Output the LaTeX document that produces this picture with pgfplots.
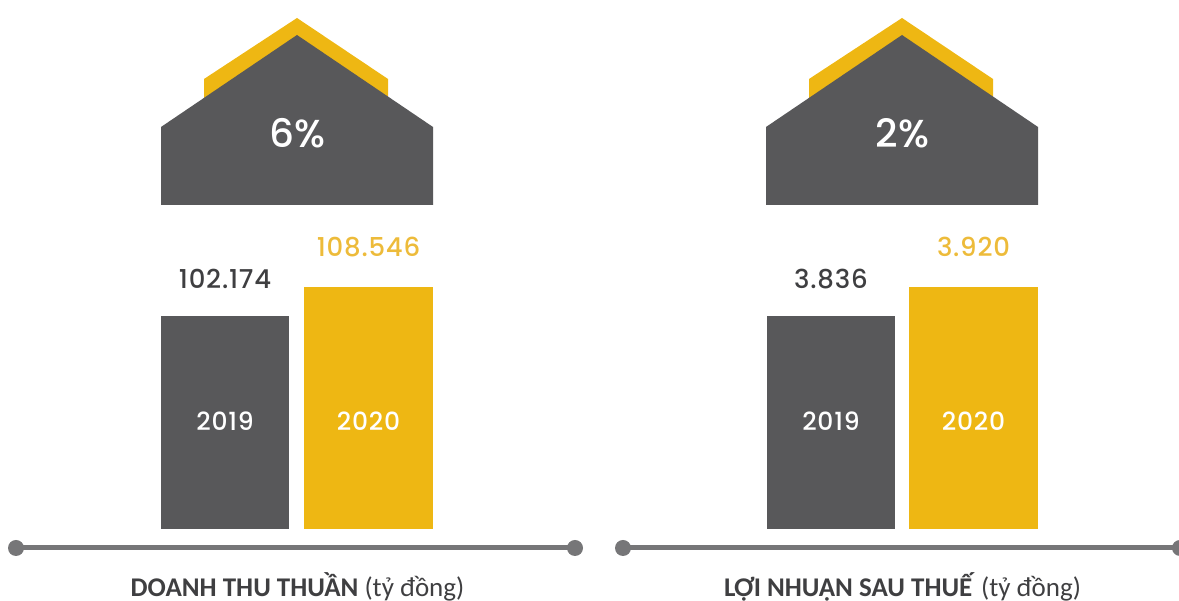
\documentclass[border=0pt]{standalone}
\usepackage{pgfplots}
\pgfplotsset{compat=1.18}
\usepackage{fontspec}
\setmainfont[LetterSpace=3]{Poppins Medium}
\newfontfamily\pctfont{Poppins Medium}
\newfontfamily\titlefont{Carlito}
\definecolor{hgray}{HTML}{58585A}
\definecolor{hyellow}{HTML}{EEB713}
\definecolor{lgray}{HTML}{767678}
\definecolor{tgray}{HTML}{3F3F41}
\definecolor{tyellow}{HTML}{EDBB3A}
\newcommand{\px}[2]{(#1pt,{601pt-#2pt})}
\pgfplotsset{
  barpanel/.style={
    hide axis, scale only axis, height=260pt, anchor=south west,
    ybar, bar shift=0pt, clip=false,
    point meta=explicit symbolic,
    nodes near coords,
    every node near coord/.append style={font=\fontsize{26}{30}\selectfont, anchor=base},
  },
  grayseries/.style={fill=hgray, draw=none, bar width=128.5pt,
    every node near coord/.append style={text=tgray, yshift=27pt}},
  yellowseries/.style={fill=hyellow, draw=none, bar width=128.5pt,
    every node near coord/.append style={text=tyellow, yshift=30pt}},
}
\newcommand{\house}[1]{%
  \begin{scope}[xshift=#1pt]
    \fill[hyellow] \px{204}{98} -- \px{204}{79} -- \px{297}{18} -- \px{388}{79} -- \px{388}{98} -- cycle;
    \fill[hgray] \px{161}{205} -- \px{433}{205} -- \px{433}{127} -- \px{297}{35} -- \px{161}{127} -- cycle;
  \end{scope}}
\begin{document}
\begin{tikzpicture}[x=1pt,y=1pt]
\path[use as bounding box] (0,0) rectangle (1179pt,601pt);
\house{0}
\house{605}
\node[text=white,font=\pctfont\fontsize{39}{42}\selectfont] at \px{297.5}{133} {6\%};
\node[text=white,font=\pctfont\fontsize{39}{42}\selectfont] at \px{902.5}{133} {2\%};
\draw[lgray,line width=5pt] \px{16}{548} -- \px{575}{548};
\fill[lgray] \px{16}{548} circle (8pt) \px{575}{548} circle (8pt);
\draw[lgray,line width=5pt] \px{623}{548} -- \px{1180}{548};
\fill[lgray] \px{623}{548} circle (8pt) \px{1180}{548} circle (8pt);
\node[text=tgray,font=\titlefont\fontsize{27}{30}\selectfont] at \px{297.5}{586.5} {\textbf{DOANH THU THUẦN} (tỷ đồng)};
\node[text=tgray,font=\titlefont\fontsize{27}{30}\selectfont] at \px{902.5}{586.5} {\textbf{LỢI NHUẬN SAU THUẾ} (tỷ đồng)};
\begin{axis}[barpanel, at={(161pt,72pt)}, width=272pt,
    xmin=-0.446, xmax=1.449, ymin=55373, ymax=112500]
  \addplot[grayseries] coordinates {(0,102174) [102.174]};
  \addplot[yellowseries] coordinates {(1,108546) [108.546]};
  \node[text=white,font=\fontsize{25}{28}\selectfont] at (axis cs:0,79100) {2019};
  \node[text=white,font=\fontsize{25}{28}\selectfont] at (axis cs:1,79100) {2020};
\end{axis}
\begin{axis}[barpanel, at={(767pt,72pt)}, width=271pt,
    xmin=-0.449, xmax=1.4526, ymin=3219, ymax=3972]
  \addplot[grayseries] coordinates {(0,3836) [3.836]};
  \addplot[yellowseries] coordinates {(1,3920) [3.920]};
  \node[text=white,font=\fontsize{25}{28}\selectfont] at (axis cs:0,3532) {2019};
  \node[text=white,font=\fontsize{25}{28}\selectfont] at (axis cs:1,3532) {2020};
\end{axis}
\end{tikzpicture}
\end{document}
